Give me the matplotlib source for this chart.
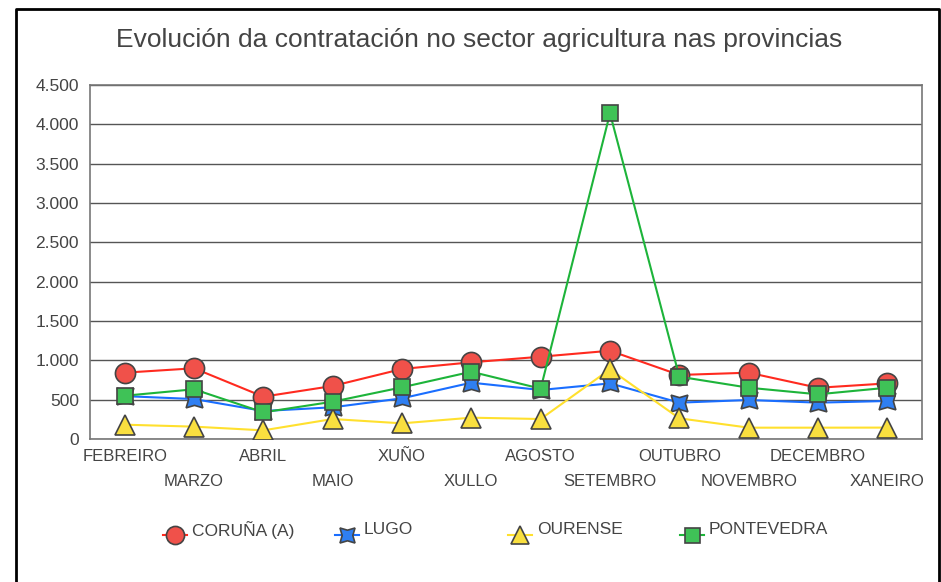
import matplotlib
matplotlib.use('Agg')
import matplotlib.pyplot as plt
from matplotlib.lines import Line2D

# data
months = ['FEBREIRO', 'MARZO', 'ABRIL', 'MAIO', 'XUÑO', 'XULLO',
          'AGOSTO', 'SETEMBRO', 'OUTUBRO', 'NOVEMBRO', 'DECEMBRO', 'XANEIRO']
coruna = [843, 899, 538, 674, 890, 975, 1046, 1122, 814, 843, 651, 707]
lugo = [545, 508, 356, 403, 517, 716, 623, 707, 462, 496, 462, 483]
ourense = [182, 157, 110, 254, 199, 271, 254, 886, 263, 144, 144, 145]
pontevedra = [550, 632, 339, 474, 657, 855, 640, 4140, 792, 652, 568, 652]
yticks = [0, 500, 1000, 1500, 2000, 2500, 3000, 3500, 4000, 4500]
ylabels = ['0', '500', '1.000', '1.500', '2.000', '2.500', '3.000', '3.500', '4.000', '4.500']

plt.rcParams['font.family'] = ['Liberation Sans', 'DejaVu Sans']

fig = plt.figure(figsize=(9.41, 5.82), dpi=100)
ax = fig.add_axes([90/941, 1-439/582, 832/941, 354/582])

x = list(range(len(months)))
edge = '#444444'
series = [
    ('CORUÑA (A)', coruna, '#FF2A1F', '#F0514A', 'o', 14.5),
    ('LUGO', lugo, '#1A6EFF', '#2F7FF2', (4, 1, 45), 17),
    ('OURENSE', ourense, '#FFE02E', '#F9DF3F', '^', 14),
    ('PONTEVEDRA', pontevedra, '#1DB43A', '#3FC257', 's', 12),
]
for name, vals, lc, fc, mk, ms in series:
    ax.plot(x, vals, color=lc, lw=1.5, marker=mk, markersize=ms,
            markerfacecolor=fc, markeredgecolor=edge, markeredgewidth=1.2,
            label=name, zorder=3)

ax.set_xlim(-0.5, len(months) - 0.5)
ax.set_ylim(0, 4500)
ax.set_yticks(yticks)
ax.set_yticklabels(ylabels)
ax.yaxis.grid(True, color='#555555', lw=1)
ax.set_axisbelow(True)
ax.tick_params(axis='y', length=0, pad=8, labelsize=12.5, labelcolor='#444444')
ax.set_xticks(x)
ax.set_xticklabels([])
ax.tick_params(axis='x', length=0)
for s in ax.spines.values():
    s.set_color('#777777')
    s.set_linewidth(1.2)

# staggered month labels
for i, m in enumerate(months):
    yoff = 7 if i % 2 == 0 else 25
    ax.annotate(m, (i, 0), xytext=(0, -yoff), textcoords='offset points',
                ha='center', va='top', fontsize=12, color='#444444')

fig.text(479/941, 1-40/582, 'Evolución da contratación no sector agricultura nas provincias',
         ha='center', va='center', fontsize=19, color='#444444')

# legend entries placed by hand
leg_x = [175, 347, 520, 692]
for (name, vals, lc, fc, mk, ms), lx in zip(series, leg_x):
    fig.add_artist(Line2D([(lx - 12)/941, (lx + 12)/941], [1-535/582]*2, color=lc, lw=1.5))
    fig.add_artist(Line2D([lx/941], [1-535/582], marker=mk, markersize=ms * 0.9,
                          markerfacecolor=fc, markeredgecolor=edge, markeredgewidth=1.2, lw=0))
    fig.text((lx + 17)/941, 1-530/582, name, ha='left', va='center', fontsize=12.5,
             color='#444444')

# outer frame
fig.add_artist(Line2D([16/941, 16/941, 939/941, 939/941], [0, 1-9/582, 1-9/582, 0],
                      color='black', lw=2))

plt.savefig('out.png', dpi=100)
